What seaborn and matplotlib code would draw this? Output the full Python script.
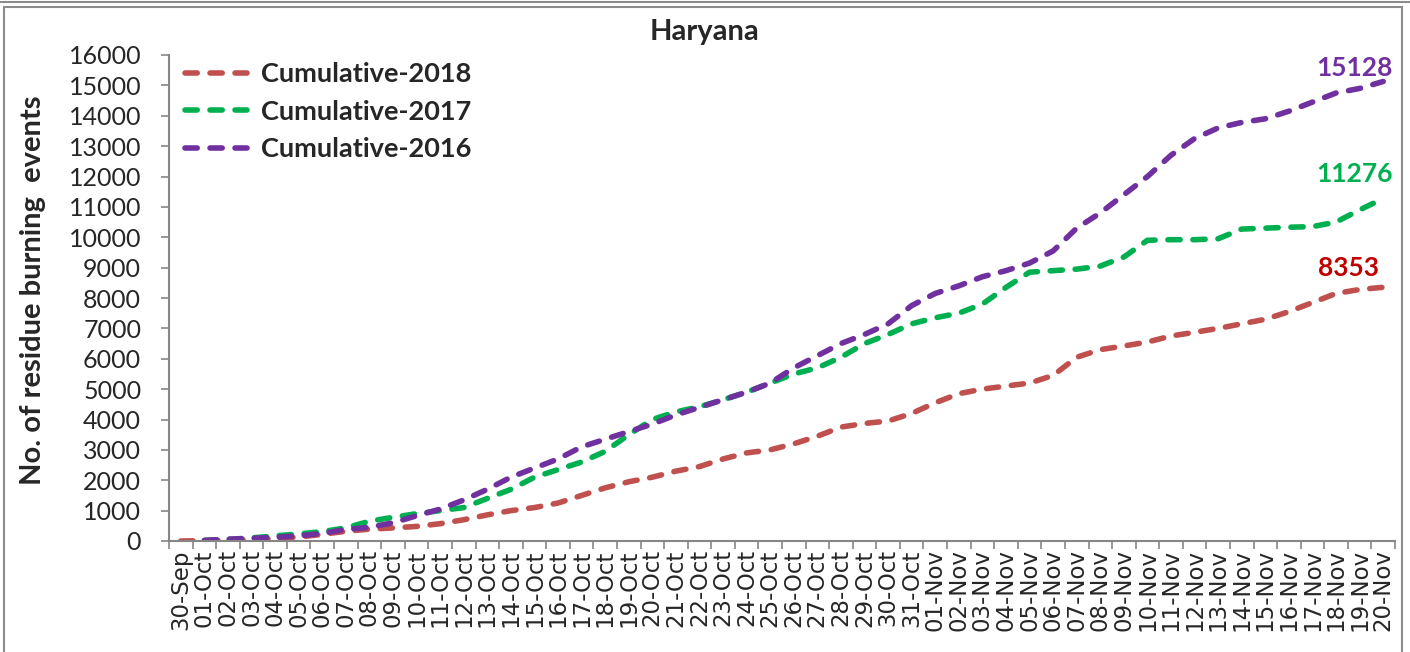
import numpy as np
import pandas as pd
import seaborn as sns
import matplotlib
matplotlib.use("Agg")
import matplotlib.pyplot as plt
from matplotlib.patches import Rectangle

# ---- DATA ----
dates = (["30-Sep"]
         + [f"{d:02d}-Oct" for d in range(1, 32)]
         + [f"{d:02d}-Nov" for d in range(1, 21)])

cum_2018 = [0, 10, 25, 50, 80, 130, 220, 320, 390, 430,
            480, 570, 700, 860, 1000, 1100, 1250, 1500, 1750, 1950,
            2100, 2300, 2450, 2700, 2900, 3000, 3200, 3450, 3750, 3870,
            3950, 4200, 4550, 4850, 5000, 5100, 5200, 5450, 6050, 6300,
            6420, 6550, 6750, 6870, 7000, 7150, 7300, 7550, 7850, 8150,
            8280, 8353]

cum_2017 = [np.nan, 20, 50, 100, 170, 230, 310, 430, 650, 780,
            900, 1000, 1100, 1400, 1700, 2100, 2350, 2600, 2950, 3500,
            4000, 4250, 4420, 4650, 4900, 5200, 5500, 5700, 6050, 6500,
            6800, 7150, 7350, 7500, 7800, 8350, 8850, 8900, 8950, 9050,
            9350, 9900, 9920, 9920, 9950, 10270, 10300, 10330, 10350, 10500,
            10900, 11276]

cum_2016 = [np.nan, 20, 60, 90, 120, 170, 250, 380, 450, 600,
            830, 1050, 1350, 1700, 2100, 2400, 2700, 3100, 3350, 3600,
            3850, 4150, 4400, 4650, 4900, 5200, 5700, 6100, 6500, 6800,
            7150, 7750, 8150, 8400, 8700, 8900, 9150, 9550, 10300, 10800,
            11400, 12000, 12700, 13250, 13600, 13780, 13900, 14150, 14450, 14750,
            14900, 15128]

series_names = ["Cumulative-2018", "Cumulative-2017", "Cumulative-2016"]
series_values = [cum_2018, cum_2017, cum_2016]
line_colors = ["#C0504D", "#00B050", "#7030A0"]
label_colors = ["#C00000", "#00B050", "#7030A0"]
yticks = list(range(0, 16001, 1000))

# long-form table for seaborn
df = pd.concat(
    [pd.DataFrame({"pos": range(len(dates)), "date": dates, "value": v, "series": n})
     for n, v in zip(series_names, series_values)],
    ignore_index=True,
)

sns.set_theme(style="white")
plt.rcParams["font.family"] = ["Lato", "DejaVu Sans"]

W, H = 1410, 652
fig = plt.figure(figsize=(W / 100, H / 100), dpi=100)
ax = fig.add_axes([169 / W, 1 - 541 / H, (1395 - 169) / W, (541 - 55) / H])

for name, col in zip(series_names, line_colors):
    sub = df[df["series"] == name].dropna()
    sns.lineplot(data=sub, x="pos", y="value", ax=ax, color=col, lw=4.0,
                 label=name, estimator=None, sort=False)
for line in ax.get_lines():
    line.set_dashes([2.2, 2.3])
    line.set_dash_capstyle("round")

# end-of-line value labels
offsets = [(-3, 5), (7, 9), (7, 1)]
for vals, col, off in zip(series_values, label_colors, offsets):
    ax.annotate(f"{vals[-1]}", xy=(len(dates) - 1, vals[-1]), xytext=off,
                textcoords="offset points", ha="right", va="bottom",
                color=col, fontsize=19, fontweight="bold")

ax.set_xlim(-0.5, len(dates) - 0.5)
ax.set_ylim(0, 16000)
ax.set_yticks(yticks)
ax.set_yticklabels([str(t) for t in yticks], fontsize=18)
ax.set_xticks(range(len(dates)))
ax.set_xticklabels(dates, rotation=90, fontsize=16.5, family="DejaVu Sans")
ax.set_xticks(np.arange(-0.5, len(dates), 1), minor=True)
ax.tick_params(axis="x", which="major", length=0, pad=6)
ax.tick_params(axis="x", which="minor", length=6, width=1.2, color="#868686",
               direction="out", bottom=True)
ax.tick_params(axis="y", length=6, width=1.2, color="#868686", direction="out",
               left=True, pad=14)

for s in ["top", "right"]:
    ax.spines[s].set_visible(False)
for s in ["left", "bottom"]:
    ax.spines[s].set_color("#868686")
    ax.spines[s].set_linewidth(1.5)

ax.set_xlabel("")
ax.set_ylabel("")
fig.text(33 / W, 1 - 290 / H, "No. of residue burning  events", rotation=90,
         ha="center", va="center", fontsize=21, fontweight="bold")
fig.text(705 / W, 1 - 32 / H, "Haryana", ha="center", va="center",
         fontsize=21, fontweight="bold")

ax.legend(loc="upper left", bbox_to_anchor=(185 / W, 1 - 62 / H),
          bbox_transform=fig.transFigure, frameon=False,
          prop={"weight": "bold", "size": 19.5}, handlelength=2.3,
          handletextpad=0.5, labelspacing=0.5, borderpad=0, borderaxespad=0)

# chart frame like the source
fig.patches.append(Rectangle((4 / W, -0.05), (1402 - 4) / W, 1.05 - 7 / H,
                             transform=fig.transFigure, fill=False,
                             edgecolor="#8c8c8c", lw=1.5))
fig.lines.append(plt.Line2D([0, 1], [1 - 1.5 / H, 1 - 1.5 / H],
                            transform=fig.transFigure, color="#8c8c8c", lw=1.5))

fig.savefig("out.png", dpi=100)
